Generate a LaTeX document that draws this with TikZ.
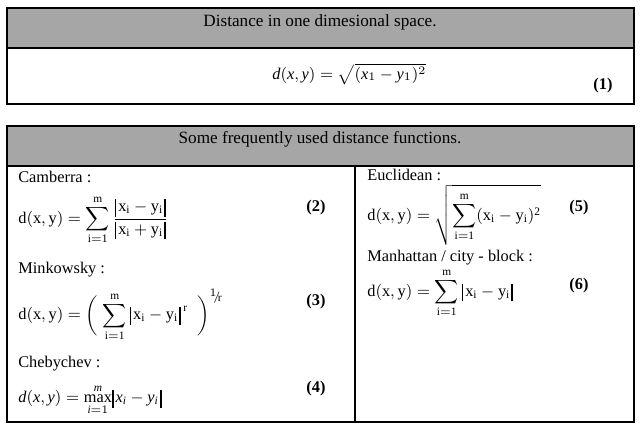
\documentclass[tikz,border=0pt]{standalone}
\usepackage{fix-cm}
\usepackage{amsmath}
\usepackage{fontspec}
\setmainfont{Liberation Serif}
\definecolor{hdrgray}{HTML}{A6A6A6}
\newcommand{\vbl}{\mathopen{\vrule width 1.1pt height 7.6pt depth 3pt\mkern2mu}}
\newcommand{\vbr}{\mathclose{\mkern1mu\vrule width 1.1pt height 7.6pt depth 3pt}}
\tikzset{
  frame/.style={line width=1.2pt},
  hdrtext/.style={inner sep=0pt, font=\fontsize{10.3}{12}\selectfont},
  lbl/.style={anchor=west, inner sep=0pt, font=\fontsize{9.8}{12}\selectfont},
  eqn/.style={anchor=west, inner sep=0pt, font=\fontsize{9.8}{12}\selectfont},
  eqnum/.style={inner sep=0pt, font=\fontsize{9.8}{12}\selectfont\bfseries}
}
\begin{document}
\begin{tikzpicture}[x=0.6pt,y=-0.6pt]
\useasboundingbox (0,0) rectangle (643,427);
% top box
\fill[hdrgray] (7,8) rectangle (634,48);
\draw[frame] (7,48) -- (634,48);
\draw[frame] (7,8) rectangle (634,104);
\node[hdrtext] (h1) at (320,22) {Distance in one dimesional space.};
\node[eqn] (e1) at (272,74) {$\mathit{d}(\mathit{x},\mathit{y})=\sqrt{(\mathit{x}_1-\mathit{y}_1)^2}$};
\node[eqnum] (n1) at (603,86) {(1)};
% bottom box
\fill[hdrgray] (7,126) rectangle (634,166);
\draw[frame] (7,166) -- (634,166);
\draw[frame] (355,166) -- (355,422);
\draw[frame] (7,126) rectangle (634,422);
\node[hdrtext] (h2) at (320,139) {Some frequently used distance functions.};
% left column
\node[lbl] (l2) at (18,177) {Camberra :};
\node[eqn] (e2) at (18,220) {$\displaystyle\mathrm{d(x,y)=\sum_{i=1}^{m}\frac{\vbl x_i-y_i\vbr}{\vbl x_i+y_i\vbr}}$};
\node[eqnum] (n2) at (316,208) {(2)};
\node[lbl] (l3) at (18,270) {Minkowsky :};
\node[eqn] (e3) at (18,315) {$\displaystyle\mathrm{d(x,y)=\biggl(\;\sum_{i=1}^{m}\,\vbl x_i-y_i\vbr^{\mkern3mu r}\;\;\biggr)^{\raisebox{2.5pt}{$\scriptstyle 1$}\mkern-4mu/\mkern-3mu\raisebox{-0.5pt}{$\scriptstyle\mathrm{r}$}}}$};
\node[eqnum] (n3) at (316,302) {(3)};
\node[lbl] (l4) at (18,364) {Chebychev :};
\node[eqn] (e4) at (18,400) {$\displaystyle\mathit{d}(\mathit{x},\mathit{y})=\max_{\mathit{i}=1}^{\mathit{m}}\vbl\mathit{x}_{\mathit{i}}-\mathit{y}_{\mathit{i}}\vbr$};
\node[eqnum] (n4) at (316,389) {(4)};
% right column
\node[lbl] (l5) at (367,175) {Euclidean :};
\node[eqn] (e5) at (367,215) {$\displaystyle\mathrm{d(x,y)=\sqrt{\sum_{i=1}^{m}(x_i-y_i)^2}}$};
\node[eqnum] (n5) at (579,208) {(5)};
\node[lbl] (l6) at (367,258) {Manhattan / city - block :};
\node[eqn] (e6) at (367,293) {$\displaystyle\mathrm{d(x,y)=\sum_{i=1}^{m}\,\vbl x_i-y_i\vbr}$};
\node[eqnum] (n6) at (579,286) {(6)};
\end{tikzpicture}
\end{document}
